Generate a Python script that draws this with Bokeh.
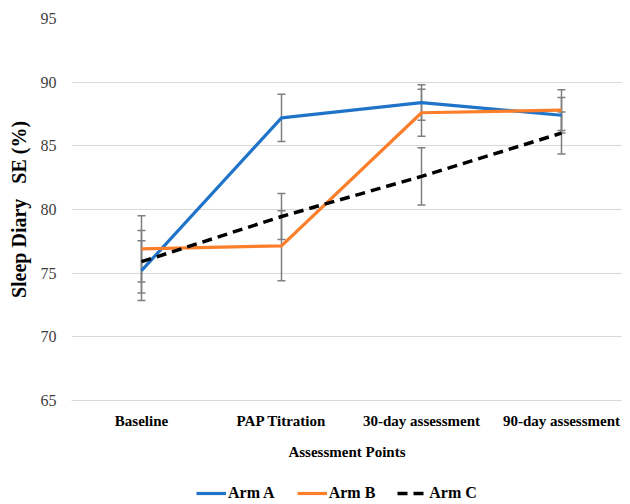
from bokeh.plotting import figure
from bokeh.layouts import column
from bokeh.models import (Range1d, FixedTicker, ColumnDataSource, Whisker, TeeHead,
                          Legend, LegendItem)
from bokeh.embed import file_html
from bokeh.resources import INLINE

categories = ["Baseline", "PAP Titration", "30-day assessment", "90-day assessment"]
arm_a = [75.2, 87.2, 88.4, 87.4]
arm_b = [76.9, 77.15, 87.6, 87.8]
arm_c = [75.9, 79.45, 82.6, 86.0]
err_a = [2.35, 1.85, 1.4, 1.4]
err_b = [2.6, 2.75, 1.85, 1.6]
err_c = [2.45, 1.8, 2.25, 1.65]
y_ticks = [65, 70, 75, 80, 85, 90, 95]
series_names = ["Arm A", "Arm B", "Arm C"]
colors = ["#1f74c9", "#fb7e2a", "black"]
widths = [3.2, 3.2, 3.5]
dashes = ["solid", "solid", "10 6"]
series = [arm_a, arm_b, arm_c]

SERIF = "Liberation Serif"
W, H = 622, 462
LEFT, TOP, BOTTOM = 71, 18, 60
BAND = 140
FW = W - LEFT

xs = [i + 0.5 for i in range(len(categories))]

p = figure(width=W, height=H, output_backend="svg", toolbar_location=None,
           x_range=Range1d(0, FW / BAND), y_range=Range1d(65, 95),
           min_border_left=LEFT, min_border_right=0, min_border_top=TOP,
           min_border_bottom=BOTTOM)
p.outline_line_color = None
p.background_fill_color = "white"
p.border_fill_color = "white"

# grid
p.xgrid.grid_line_color = None
p.ygrid.grid_line_color = "#d9d9d9"
p.ygrid.grid_line_width = 1

# y axis
p.yaxis.ticker = FixedTicker(ticks=y_ticks)
p.yaxis.axis_line_color = None
p.yaxis.major_tick_line_color = None
p.yaxis.minor_tick_line_color = None
p.yaxis.major_tick_out = 0
p.yaxis.major_tick_in = 0
p.yaxis.major_label_standoff = 15
p.yaxis.major_label_text_font = SERIF
p.yaxis.major_label_text_font_size = "16px"
p.yaxis.major_label_text_color = "#404040"
p.yaxis.axis_label = "Sleep Diary\u00a0\u00a0 SE (%)"
p.yaxis.axis_label_text_font = SERIF
p.yaxis.axis_label_text_font_style = "bold"
p.yaxis.axis_label_text_font_size = "20px"
p.yaxis.axis_label_text_color = "black"
p.yaxis.axis_label_standoff = 8

# x axis
p.xaxis.ticker = FixedTicker(ticks=xs)
p.xaxis.major_label_overrides = {x: c for x, c in zip(xs, categories)}
p.xaxis.axis_line_color = "#d9d9d9"
p.xaxis.major_tick_line_color = None
p.xaxis.minor_tick_line_color = None
p.xaxis.major_tick_out = 0
p.xaxis.major_tick_in = 0
p.xaxis.major_label_standoff = 12
p.xaxis.major_label_text_font = SERIF
p.xaxis.major_label_text_font_style = "bold"
p.xaxis.major_label_text_font_size = "15px"
p.xaxis.major_label_text_color = "black"
p.xaxis.axis_label = "Assessment Points"
p.xaxis.axis_label_text_font = SERIF
p.xaxis.axis_label_text_font_style = "bold"
p.xaxis.axis_label_text_font_size = "15px"
p.xaxis.axis_label_text_color = "black"
p.xaxis.axis_label_standoff = 12

# error bars
for vals, errs in [(arm_a, err_a), (arm_b, err_b), (arm_c, err_c)]:
    src = ColumnDataSource(dict(x=xs,
                                upper=[v + e for v, e in zip(vals, errs)],
                                lower=[v - e for v, e in zip(vals, errs)]))
    w = Whisker(source=src, base="x", upper="upper", lower="lower",
                line_color="#7f7f7f", line_width=1.5,
                upper_head=TeeHead(size=8, line_color="#7f7f7f", line_width=1.5),
                lower_head=TeeHead(size=8, line_color="#7f7f7f", line_width=1.5))
    p.add_layout(w)

for vals, c, lw, d in zip(series, colors, widths, dashes):
    p.line(xs, vals, line_color=c, line_width=lw, line_dash=d)

# legend strip below the chart (its series lie outside the strip's visible range)
lg = figure(width=W, height=40, output_backend="svg", toolbar_location=None,
            x_axis_type=None, y_axis_type=None,
            x_range=Range1d(0, FW / BAND), y_range=Range1d(0, 1),
            min_border_left=LEFT, min_border_right=0, min_border_top=0,
            min_border_bottom=0)
lg.outline_line_color = None
lg.xgrid.grid_line_color = None
lg.ygrid.grid_line_color = None
items = []
for name, vals, c, lw, d in zip(series_names, series, colors, widths, dashes):
    r = lg.line(xs, vals, line_color=c, line_width=lw, line_dash=d)
    items.append(LegendItem(label=name, renderers=[r]))
legend = Legend(items=items, orientation="horizontal", location=(125, 0),
                label_text_font=SERIF, label_text_font_style="bold",
                label_text_font_size="16px", label_text_color="black",
                glyph_width=30, glyph_height=16, label_standoff=2, spacing=22,
                padding=0, margin=0, border_line_color=None,
                background_fill_alpha=0)
lg.add_layout(legend, "center")

layout = column(p, lg, spacing=0)
open("out.html", "w").write(file_html(layout, INLINE))
